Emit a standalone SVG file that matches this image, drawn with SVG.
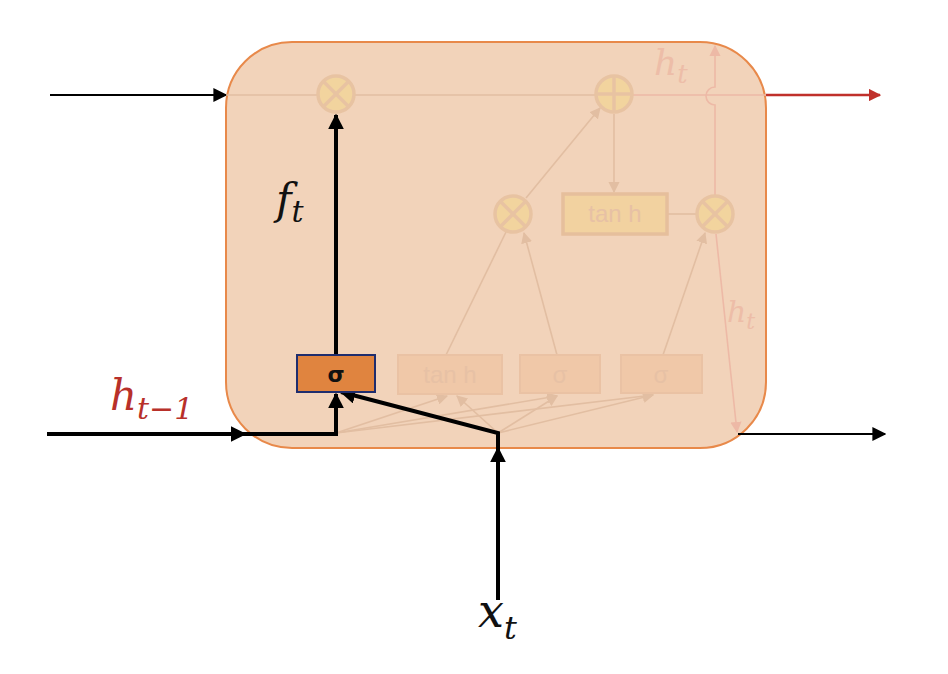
<svg xmlns="http://www.w3.org/2000/svg" width="948" height="674" viewBox="0 0 948 674">
<style>
.math{font-family:"DejaVu Serif","Liberation Serif",serif;font-style:italic}
.fl{stroke:#E2BEA2;stroke-width:1.6;fill:none}
.fr{stroke:#EDB9A6;stroke-width:1.6;fill:none}
.circ{fill:#F2D49E;stroke:#E8C3A2;stroke-width:3.5}
.cx{stroke:#E8C3A2;stroke-width:3.5}
.fbox{fill:#F0C8A8;stroke:#EAC2A4;stroke-width:2}
.ftxt{font-family:"Liberation Sans",Arial,sans-serif;font-size:24px;fill:#E7C1A5;text-anchor:middle}
.blk{stroke:#000;stroke-width:4;fill:none}
</style>
<defs>
<marker id="ab" viewBox="0 0 10 10" refX="9" refY="5" markerWidth="4" markerHeight="4" orient="auto"><path d="M0,0L10,5L0,10z" fill="#000"/></marker>
<marker id="abt" viewBox="0 0 10 10" refX="9" refY="5" markerWidth="7" markerHeight="7" orient="auto"><path d="M0,0L10,5L0,10z" fill="#000"/></marker>
<marker id="ar" viewBox="0 0 10 10" refX="9" refY="5" markerWidth="5" markerHeight="5" orient="auto"><path d="M0,0L10,5L0,10z" fill="#C0302B"/></marker>
<marker id="af" viewBox="0 0 10 10" refX="9" refY="5" markerWidth="7" markerHeight="7" orient="auto"><path d="M0,0L10,5L0,10z" fill="#E2BEA2"/></marker>
<marker id="afr" viewBox="0 0 10 10" refX="9" refY="5" markerWidth="7" markerHeight="7" orient="auto"><path d="M0,0L10,5L0,10z" fill="#EDB9A6"/></marker>
</defs>
<rect width="948" height="674" fill="#fff"/>
<g id="cell">
<rect x="226" y="42" width="540" height="406" rx="66" ry="66" fill="#F2D3BA" stroke="#E8894A" stroke-width="2"/>
</g>
<g id="connectors">
<line x1="50" y1="95" x2="226" y2="95" stroke="#000" stroke-width="2" marker-end="url(#abt)"/>
<line x1="226" y1="95" x2="317" y2="95" class="fl"/>
<line x1="355" y1="95" x2="595" y2="95" class="fl"/>
<line x1="633" y1="95" x2="766" y2="95" class="fr"/>
<line x1="766" y1="95" x2="880" y2="95" stroke="#C0302B" stroke-width="2.5" marker-end="url(#ar)"/>
<path d="M715,195 L715,105 A9,9 0 0 1 715,87 L715,46" class="fr" marker-end="url(#afr)"/>
<line x1="614" y1="114" x2="614" y2="192" class="fl" marker-end="url(#af)"/>
<line x1="668" y1="214" x2="696" y2="214" class="fl"/>
<line x1="526" y1="198" x2="600" y2="108" class="fl" marker-end="url(#af)"/>
<line x1="446" y1="355" x2="506" y2="232" class="fl"/>
<line x1="557" y1="355" x2="524" y2="233" class="fl" marker-end="url(#af)"/>
<line x1="663" y1="355" x2="705" y2="233" class="fl" marker-end="url(#af)"/>
<line x1="716" y1="234" x2="737" y2="432" class="fr" marker-end="url(#afr)"/>
<line x1="336" y1="433" x2="447" y2="396" class="fl" marker-end="url(#af)"/>
<line x1="336" y1="433" x2="557" y2="396" class="fl" marker-end="url(#af)"/>
<line x1="336" y1="433" x2="653" y2="395" class="fl" marker-end="url(#af)"/>
<line x1="498" y1="433" x2="457" y2="396" class="fl" marker-end="url(#af)"/>
<line x1="498" y1="433" x2="557" y2="396" class="fl" marker-end="url(#af)"/>
<line x1="498" y1="433" x2="653" y2="395" class="fl" marker-end="url(#af)"/>
<line x1="738" y1="434" x2="885" y2="434" stroke="#000" stroke-width="2" marker-end="url(#abt)"/>
<line x1="47" y1="434" x2="245" y2="434" class="blk" marker-end="url(#ab)"/>
<polyline points="243,434 336,434 336,394" class="blk" marker-end="url(#ab)"/>
<line x1="336" y1="354" x2="336" y2="115" class="blk" marker-end="url(#ab)"/>
<line x1="498" y1="600" x2="498" y2="448" class="blk" marker-end="url(#ab)"/>
<polyline points="498,450 498,433 341,392" class="blk" marker-end="url(#ab)"/>
</g>
<g id="mul1">
<circle cx="336" cy="94" r="18" class="circ"/>
<line x1="323" y1="81" x2="349" y2="107" class="cx"/><line x1="349" y1="81" x2="323" y2="107" class="cx"/>
</g>
<g id="plus">
<circle cx="614" cy="94" r="18" class="circ"/>
<line x1="614" y1="76" x2="614" y2="112" class="cx"/><line x1="596" y1="94" x2="632" y2="94" class="cx"/>
</g>
<g id="mul2">
<circle cx="513" cy="214" r="18" class="circ"/>
<line x1="500" y1="201" x2="526" y2="227" class="cx"/><line x1="526" y1="201" x2="500" y2="227" class="cx"/>
</g>
<g id="mul3">
<circle cx="715" cy="214" r="18" class="circ"/>
<line x1="702" y1="201" x2="728" y2="227" class="cx"/><line x1="728" y1="201" x2="702" y2="227" class="cx"/>
</g>
<g id="tanh-top">
<rect x="563" y="194" width="104" height="40" fill="#F2D2A0" stroke="#E6BF9C" stroke-width="3.5"/>
<text x="615" y="222" class="ftxt">tan h</text>
</g>
<g id="sigma-forget">
<rect x="297" y="355" width="78" height="37" fill="#E0843F" stroke="#1F2D6E" stroke-width="2"/>
<text x="336" y="382" font-family="'DejaVu Sans','Liberation Sans',sans-serif" font-size="22" font-weight="bold" fill="#111" text-anchor="middle">σ</text>
</g>
<g id="tanh-gate">
<rect x="398" y="355" width="104" height="39" class="fbox"/>
<text x="450" y="383" class="ftxt">tan h</text>
</g>
<g id="sigma-input">
<rect x="520" y="355" width="80" height="38" class="fbox"/>
<text x="560" y="383" class="ftxt">σ</text>
</g>
<g id="sigma-output">
<rect x="621" y="355" width="81" height="38" class="fbox"/>
<text x="661" y="383" class="ftxt">σ</text>
</g>
<g id="labels">
<text x="276" y="214" class="math" font-size="42" fill="#111">f<tspan font-size="30" dy="8">t</tspan></text>
<text x="110" y="410" class="math" font-size="42" fill="#B8302A">h<tspan font-size="30" dy="9">t−1</tspan></text>
<text x="478" y="627" class="math" font-size="46" fill="#111">x<tspan font-size="32" dy="12">t</tspan></text>
<text x="654" y="75" class="math" font-size="36" fill="#EDBDA8">h<tspan font-size="26" dy="8">t</tspan></text>
<text x="727" y="322" class="math" font-size="30" fill="#EDBDA8">h<tspan font-size="22" dy="7">t</tspan></text>
</g>
</svg>
